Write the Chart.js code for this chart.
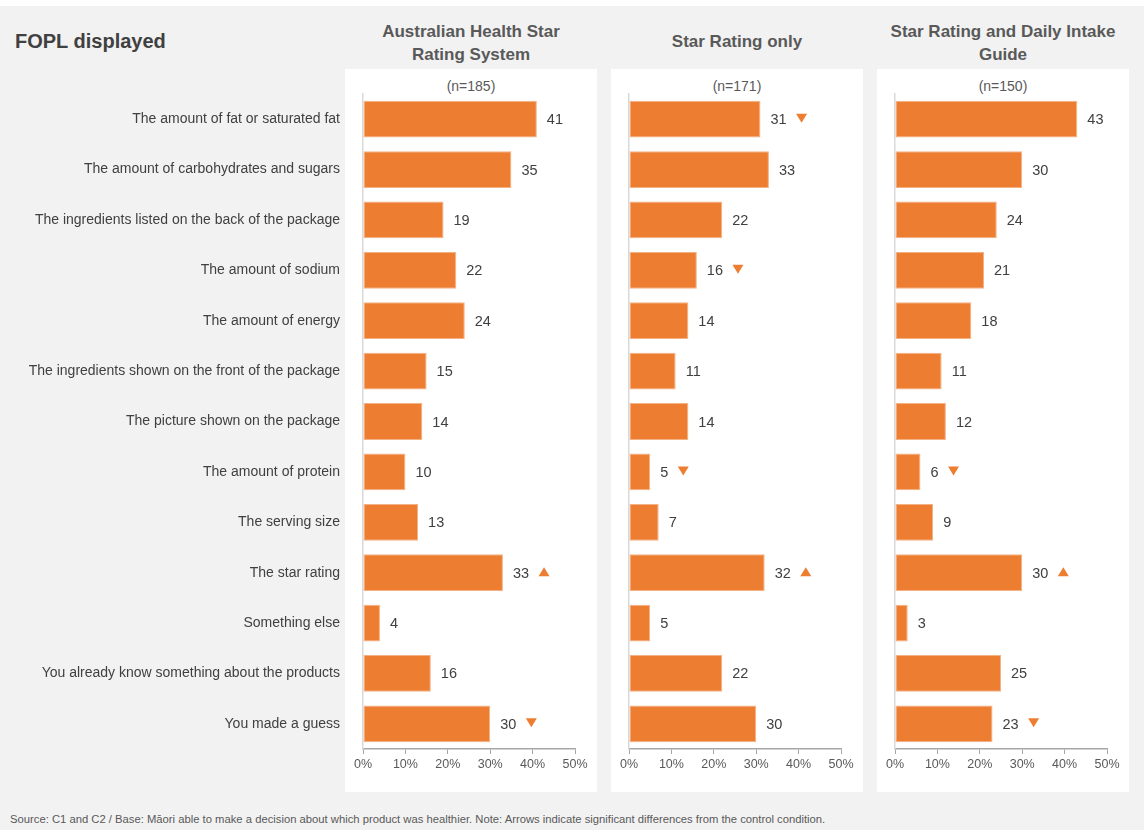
<!DOCTYPE html>
<html>
<head>
<meta charset="utf-8">
<script src="https://cdn.jsdelivr.net/npm/chart.js@4.4.1/dist/chart.umd.min.js"></script>
<style>
  html,body{margin:0;padding:0;background:#fff;}
  body{width:1144px;height:830px;position:relative;overflow:hidden;font-family:"Liberation Sans",Arial,sans-serif;}
  #bg{position:absolute;left:0;top:6px;width:1144px;height:824px;background:#f2f2f2;}
  .panel{position:absolute;top:69px;width:252px;height:723px;background:#fff;}
  .hdr{position:absolute;width:260px;text-align:center;font-weight:bold;font-size:17px;line-height:23px;color:#595959;}
  .n{position:absolute;top:78px;width:252px;text-align:center;font-size:14px;color:#595959;}
  canvas{position:absolute;}
  #title{position:absolute;left:15px;top:30px;font-weight:bold;font-size:20px;color:#404040;}
  #foot{position:absolute;left:10px;top:813px;font-size:11.25px;color:#595959;white-space:nowrap;}
</style>
</head>
<body>
<div id="bg"></div>
<div id="title">FOPL displayed</div>
<div class="panel" style="left:345px"></div>
<div class="panel" style="left:611px"></div>
<div class="panel" style="left:877px"></div>
<div id="hdr0" class="hdr" style="left:341px;top:20px">Australian Health Star<br>Rating System</div>
<div id="hdr1" class="hdr" style="left:607px;top:30px">Star Rating only</div>
<div id="hdr2" class="hdr" style="left:873px;top:20px">Star Rating and Daily Intake<br>Guide</div>
<div class="n" style="left:345px" id="n0"></div>
<div class="n" style="left:611px" id="n1"></div>
<div class="n" style="left:877px" id="n2"></div>
<canvas id="c0" style="left:0;top:69px" width="597" height="723"></canvas>
<canvas id="c1" style="left:611px;top:69px" width="252" height="723"></canvas>
<canvas id="c2" style="left:877px;top:69px" width="252" height="723"></canvas>
<div id="foot">Source: C1 and C2 / Base: Māori able to make a decision about which product was healthier. Note: Arrows indicate significant differences from the control condition.</div>

<script>
const categories = [
  "The amount of fat or saturated fat",
  "The amount of carbohydrates and sugars",
  "The ingredients listed on the back of the package",
  "The amount of sodium",
  "The amount of energy",
  "The ingredients shown on the front of the package",
  "The picture shown on the package",
  "The amount of protein",
  "The serving size",
  "The star rating",
  "Something else",
  "You already know something about the products",
  "You made a guess"
];
const sampleSizes = ["(n=185)", "(n=171)", "(n=150)"];
const valuesAHSR  = [41, 35, 19, 22, 24, 15, 14, 10, 13, 33, 4, 16, 30];
const valuesSR    = [31, 33, 22, 16, 14, 11, 14, 5, 7, 32, 5, 22, 30];
const valuesSRDIG = [43, 30, 24, 21, 18, 11, 12, 6, 9, 30, 3, 25, 23];
const arrowsAHSR  = [null, null, null, null, null, null, null, null, null, "up", null, null, "down"];
const arrowsSR    = ["down", null, null, "down", null, null, null, "down", null, "up", null, null, null];
const arrowsSRDIG = [null, null, null, null, null, null, null, "down", null, "up", null, null, "down"];
const xTickValues = [0, 10, 20, 30, 40, 50];

const FONT = '"Liberation Sans",Arial,sans-serif';
Chart.defaults.font.family = FONT;
Chart.defaults.animation = false;

const ORANGE = '#ED7D31';

const labelPlugin = {
  id: 'valueLabels',
  afterDatasetsDraw(chart, args, opts) {
    const ctx = chart.ctx;
    const meta = chart.getDatasetMeta(0);
    const data = chart.data.datasets[0].data;
    const arrows = opts.arrows || [];
    ctx.save();
    ctx.font = '14.5px ' + FONT;
    ctx.textAlign = 'left';
    ctx.textBaseline = 'middle';
    meta.data.forEach((bar, i) => {
      const txt = String(data[i]);
      const x = bar.x + 10;
      const y = bar.y + 1;
      ctx.fillStyle = '#404040';
      ctx.fillText(txt, x, y);
      const w = ctx.measureText(txt).width;
      const a = arrows[i];
      if (a) {
        const cx = x + w + 15;
        const cy = bar.y - 1;
        ctx.fillStyle = ORANGE;
        ctx.beginPath();
        if (a === 'up') {
          ctx.moveTo(cx - 5.5, cy + 4.5);
          ctx.lineTo(cx + 5.5, cy + 4.5);
          ctx.lineTo(cx, cy - 4.5);
        } else {
          ctx.moveTo(cx - 5.5, cy - 4.5);
          ctx.lineTo(cx + 5.5, cy - 4.5);
          ctx.lineTo(cx, cy + 4.5);
        }
        ctx.closePath();
        ctx.fill();
      }
    });
    ctx.restore();
  }
};

function makeChart(id, values, arrows, showLabels) {
  const yWidth = showLabels ? 363 : 18;
  return new Chart(document.getElementById(id), {
    type: 'bar',
    data: {
      labels: categories,
      datasets: [{
        data: values,
        backgroundColor: ORANGE,
        borderColor: '#F4B183',
        borderWidth: 1,
        borderSkipped: false,
        categoryPercentage: 1,
        barPercentage: 0.73
      }]
    },
    options: {
      indexAxis: 'y',
      responsive: false,
      maintainAspectRatio: false,
      layout: { padding: { top: 25, right: 22, left: 0, bottom: 0 } },
      plugins: {
        legend: { display: false },
        tooltip: { enabled: false },
        valueLabels: { arrows: arrows }
      },
      scales: {
        x: {
          min: 0, max: 50,
          afterBuildTicks(scale) { scale.ticks = xTickValues.map(v => ({ value: v })); },
          afterFit(scale) { scale.height = 43; scale.paddingLeft = 0; scale.paddingRight = 0; },
          grid: { display: true, drawOnChartArea: false, drawTicks: true, tickLength: 5, color: '#a6a6a6' },
          border: { display: true, color: '#a6a6a6', width: 1.5 },
          ticks: {
            padding: 3,
            color: '#595959',
            font: { size: 12.5 },
            callback: v => v + '%'
          }
        },
        y: {
          afterFit(scale) { scale.width = yWidth; scale.paddingTop = 0; scale.paddingBottom = 0; },
          grid: { display: false, drawTicks: false },
          border: { display: true, color: '#d9d9d9', width: 1.5 },
          ticks: {
            display: showLabels,
            padding: 23,
            color: '#404040',
            font: { size: 14 }
          }
        }
      }
    },
    plugins: [labelPlugin]
  });
}

['n0','n1','n2'].forEach((id, i) => { document.getElementById(id).textContent = sampleSizes[i]; });
makeChart('c0', valuesAHSR, arrowsAHSR, true);
makeChart('c1', valuesSR, arrowsSR, false);
makeChart('c2', valuesSRDIG, arrowsSRDIG, false);
</script>
</body>
</html>
